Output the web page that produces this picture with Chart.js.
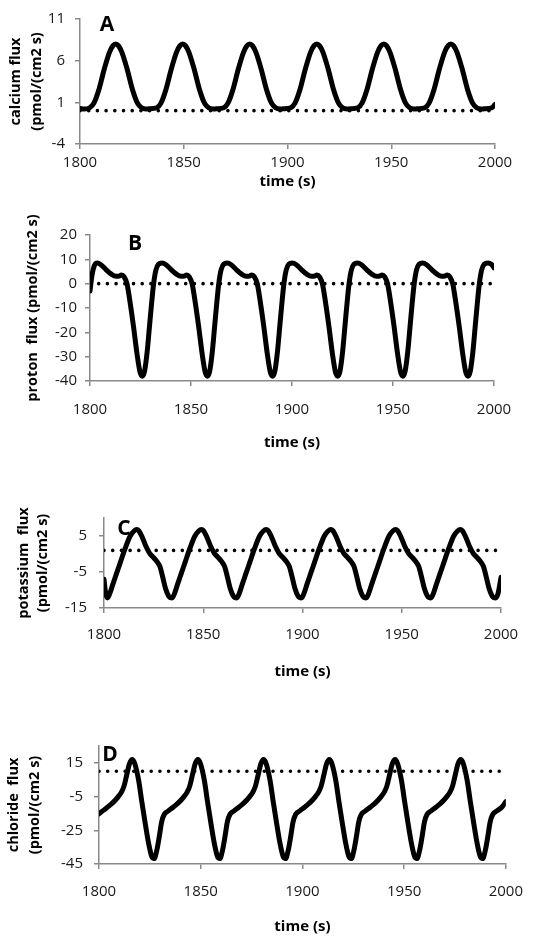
<!DOCTYPE html>
<html>
<head>
<meta charset="utf-8">
<script src="https://cdn.jsdelivr.net/npm/chart.js@4.4.1/dist/chart.umd.min.js"></script>
<style>
  body { margin: 0; background: #fff; }
  #wrap { position: relative; width: 537px; height: 938px; overflow: hidden; }
  canvas { position: absolute; left: 0; }
  .tag { position: absolute; font: bold 21px "Open Sans", sans-serif; color: #000; transform: translate(-50%, -50%); line-height: 1; }
</style>
</head>
<body>
<div id="wrap">
  <canvas id="chartA" width="537" height="200" style="top:0px"></canvas>
  <canvas id="chartB" width="537" height="260" style="top:200px"></canvas>
  <canvas id="chartC" width="537" height="230" style="top:460px"></canvas>
  <canvas id="chartD" width="537" height="248" style="top:690px"></canvas>
  <div class="tag" style="left:107px; top:23px">A</div>
  <div class="tag" style="left:135px; top:242px">B</div>
  <div class="tag" style="left:124px; top:527px">C</div>
  <div class="tag" style="left:110px; top:753px">D</div>
</div>
<script>
// x axis
const timeTicks = [1800, 1850, 1900, 1950, 2000];

// A - calcium flux
const timeA = [1800, 1802, 1804.7,
  1806.7, 1809.2, 1811.7, 1814.2, 1815.9, 1817.2, 1818.5, 1820.2, 1822.7, 1825.2, 1827.7, 1829.7, 1831.7, 1833.2,
  1837.0, 1839.0, 1841.5, 1844.0, 1846.5, 1848.2, 1849.5, 1850.8, 1852.5, 1855.0, 1857.5, 1860.0, 1862.0, 1864.0, 1865.5,
  1869.3, 1871.3, 1873.8, 1876.3, 1878.8, 1880.5, 1881.8, 1883.1, 1884.8, 1887.3, 1889.8, 1892.3, 1894.3, 1896.3, 1897.8,
  1901.6, 1903.6, 1906.1, 1908.6, 1911.1, 1912.8, 1914.1, 1915.4, 1917.1, 1919.6, 1922.1, 1924.6, 1926.6, 1928.6, 1930.1,
  1933.9, 1935.9, 1938.4, 1940.9, 1943.4, 1945.1, 1946.4, 1947.7, 1949.4, 1951.9, 1954.4, 1956.9, 1958.9, 1960.9, 1962.4,
  1966.2, 1968.2, 1970.7, 1973.2, 1975.7, 1977.4, 1978.7, 1980.0, 1981.7, 1984.2, 1986.7, 1989.2, 1991.2, 1993.2, 1994.7,
  1998.5, 2000];
const calciumFlux = [0.25, 0.2, 0.35,
  0.9, 2.6, 5.0, 7.0, 7.8, 8.0, 7.8, 7.0, 5.0, 2.6, 0.9, 0.35, 0.2, 0.22, 0.35,
  0.9, 2.6, 5.0, 7.0, 7.8, 8.0, 7.8, 7.0, 5.0, 2.6, 0.9, 0.35, 0.2, 0.22, 0.35,
  0.9, 2.6, 5.0, 7.0, 7.8, 8.0, 7.8, 7.0, 5.0, 2.6, 0.9, 0.35, 0.2, 0.22, 0.35,
  0.9, 2.6, 5.0, 7.0, 7.8, 8.0, 7.8, 7.0, 5.0, 2.6, 0.9, 0.35, 0.2, 0.22, 0.35,
  0.9, 2.6, 5.0, 7.0, 7.8, 8.0, 7.8, 7.0, 5.0, 2.6, 0.9, 0.35, 0.2, 0.22, 0.35,
  0.9, 2.6, 5.0, 7.0, 7.8, 8.0, 7.8, 7.0, 5.0, 2.6, 0.9, 0.35, 0.2, 0.22,
  0.35, 0.75];
const ticksA = [-4, 1, 6, 11];

// B - proton flux
const timeB = [1800, 1801, 1802.2, 1803.6,
  1805.4, 1807.9, 1810.4, 1812.9, 1814.4, 1815.6, 1816.9, 1818.3, 1819.9, 1821.6, 1823.3, 1824.8, 1825.9, 1827.0, 1828.3, 1829.4, 1830.5, 1831.5, 1832.6, 1833.9, 1835.65,
  1837.65, 1840.15, 1842.65, 1845.15, 1846.65, 1847.85, 1849.15, 1850.55, 1852.15, 1853.85, 1855.55, 1857.05, 1858.15, 1859.25, 1860.55, 1861.65, 1862.75, 1863.75, 1864.85, 1866.15, 1867.9,
  1869.9, 1872.4, 1874.9, 1877.4, 1878.9, 1880.1, 1881.4, 1882.8, 1884.4, 1886.1, 1887.8, 1889.3, 1890.4, 1891.5, 1892.8, 1893.9, 1895.0, 1896.0, 1897.1, 1898.4, 1900.15,
  1902.15, 1904.65, 1907.15, 1909.65, 1911.15, 1912.35, 1913.65, 1915.05, 1916.65, 1918.35, 1920.05, 1921.55, 1922.65, 1923.75, 1925.05, 1926.15, 1927.25, 1928.25, 1929.35, 1930.65, 1932.4,
  1934.4, 1936.9, 1939.4, 1941.9, 1943.4, 1944.6, 1945.9, 1947.3, 1948.9, 1950.6, 1952.3, 1953.8, 1954.9, 1956.0, 1957.3, 1958.4, 1959.5, 1960.5, 1961.6, 1962.9, 1964.65,
  1966.65, 1969.15, 1971.65, 1974.15, 1975.65, 1976.85, 1978.15, 1979.55, 1981.15, 1982.85, 1984.55, 1986.05, 1987.15, 1988.25, 1989.55, 1990.65, 1991.75, 1992.75, 1993.85, 1995.15, 1996.9,
  1998.9, 2000];
const protonFlux = [-3, 3.5, 7.5, 8.5,
  7.8, 5.8, 4.0, 3.0, 3.1, 3.6, 2.8, 0, -8, -18, -29, -36.5, -38, -36, -28, -18, -8, 0, 5.5, 8.0, 8.5,
  7.8, 5.8, 4.0, 3.0, 3.1, 3.6, 2.8, 0, -8, -18, -29, -36.5, -38, -36, -28, -18, -8, 0, 5.5, 8.0, 8.5,
  7.8, 5.8, 4.0, 3.0, 3.1, 3.6, 2.8, 0, -8, -18, -29, -36.5, -38, -36, -28, -18, -8, 0, 5.5, 8.0, 8.5,
  7.8, 5.8, 4.0, 3.0, 3.1, 3.6, 2.8, 0, -8, -18, -29, -36.5, -38, -36, -28, -18, -8, 0, 5.5, 8.0, 8.5,
  7.8, 5.8, 4.0, 3.0, 3.1, 3.6, 2.8, 0, -8, -18, -29, -36.5, -38, -36, -28, -18, -8, 0, 5.5, 8.0, 8.5,
  7.8, 5.8, 4.0, 3.0, 3.1, 3.6, 2.8, 0, -8, -18, -29, -36.5, -38, -36, -28, -18, -8, 0, 5.5, 8.0, 8.5,
  7.8, 6.5];
const ticksB = [-40, -30, -20, -10, 0, 10, 20];

// C - potassium flux
const timeC = [1800, 1800.8,
  1801.7, 1802.9, 1804.4, 1806.2, 1808.2, 1810.7, 1813.2, 1815.1, 1816.5, 1817.5, 1819.0, 1821.0, 1823.0, 1825.0, 1826.8, 1828.1, 1829.5, 1831.0, 1832.5,
  1834.3, 1835.5, 1837.0, 1838.8, 1840.8, 1843.3, 1845.8, 1847.7, 1849.1, 1850.1, 1851.6, 1853.6, 1855.6, 1857.6, 1859.4, 1860.7, 1862.1, 1863.6, 1865.1,
  1866.9, 1868.1, 1869.6, 1871.4, 1873.4, 1875.9, 1878.4, 1880.3, 1881.7, 1882.7, 1884.2, 1886.2, 1888.2, 1890.2, 1892.0, 1893.3, 1894.7, 1896.2, 1897.7,
  1899.5, 1900.7, 1902.2, 1904.0, 1906.0, 1908.5, 1911.0, 1912.9, 1914.3, 1915.3, 1916.8, 1918.8, 1920.8, 1922.8, 1924.6, 1925.9, 1927.3, 1928.8, 1930.3,
  1932.1, 1933.3, 1934.8, 1936.6, 1938.6, 1941.1, 1943.6, 1945.5, 1946.9, 1947.9, 1949.4, 1951.4, 1953.4, 1955.4, 1957.2, 1958.5, 1959.9, 1961.4, 1962.9,
  1964.7, 1965.9, 1967.4, 1969.2, 1971.2, 1973.7, 1976.2, 1978.1, 1979.5, 1980.5, 1982.0, 1984.0, 1986.0, 1988.0, 1989.8, 1991.1, 1992.5, 1994.0, 1995.5,
  1997.3, 1998.5, 2000];
const potassiumFlux = [-7.0, -10.8,
  -12.2, -11.0, -8.5, -5.6, -2.4, 1.6, 5.0, 6.4, 6.8, 6.5, 5.0, 2.3, 0.2, -1.0, -2.2, -3.4, -6.2, -9.6, -11.6,
  -12.2, -11.0, -8.5, -5.6, -2.4, 1.6, 5.0, 6.4, 6.8, 6.5, 5.0, 2.3, 0.2, -1.0, -2.2, -3.4, -6.2, -9.6, -11.6,
  -12.2, -11.0, -8.5, -5.6, -2.4, 1.6, 5.0, 6.4, 6.8, 6.5, 5.0, 2.3, 0.2, -1.0, -2.2, -3.4, -6.2, -9.6, -11.6,
  -12.2, -11.0, -8.5, -5.6, -2.4, 1.6, 5.0, 6.4, 6.8, 6.5, 5.0, 2.3, 0.2, -1.0, -2.2, -3.4, -6.2, -9.6, -11.6,
  -12.2, -11.0, -8.5, -5.6, -2.4, 1.6, 5.0, 6.4, 6.8, 6.5, 5.0, 2.3, 0.2, -1.0, -2.2, -3.4, -6.2, -9.6, -11.6,
  -12.2, -11.0, -8.5, -5.6, -2.4, 1.6, 5.0, 6.4, 6.8, 6.5, 5.0, 2.3, 0.2, -1.0, -2.2, -3.4, -6.2, -9.6, -11.6,
  -12.2, -11.0, -6.5];
const ticksC = [-15, -5, 5];

// D - chloride flux
const timeD = [1800,
  1801.8, 1804.3, 1806.8, 1809.3, 1811.1, 1812.3, 1813.7, 1815.0, 1816.3, 1817.6, 1819.5, 1821.1, 1822.8, 1824.5, 1825.9, 1827.1,
  1828.4, 1829.6, 1830.8, 1832.1, 1834.1, 1836.6, 1839.1, 1841.6, 1843.4, 1844.6, 1846.0, 1847.3, 1848.6, 1849.9, 1851.8, 1853.4, 1855.1, 1856.8, 1858.2, 1859.4,
  1860.7, 1861.9, 1863.1, 1864.4, 1866.4, 1868.9, 1871.4, 1873.9, 1875.7, 1876.9, 1878.3, 1879.6, 1880.9, 1882.2, 1884.1, 1885.7, 1887.4, 1889.1, 1890.5, 1891.7,
  1893.0, 1894.2, 1895.4, 1896.7, 1898.7, 1901.2, 1903.7, 1906.2, 1908.0, 1909.2, 1910.6, 1911.9, 1913.2, 1914.5, 1916.4, 1918.0, 1919.7, 1921.4, 1922.8, 1924.0,
  1925.3, 1926.5, 1927.7, 1929.0, 1931.0, 1933.5, 1936.0, 1938.5, 1940.3, 1941.5, 1942.9, 1944.2, 1945.5, 1946.8, 1948.7, 1950.3, 1952.0, 1953.7, 1955.1, 1956.3,
  1957.6, 1958.8, 1960.0, 1961.3, 1963.3, 1965.8, 1968.3, 1970.8, 1972.6, 1973.8, 1975.2, 1976.5, 1977.8, 1979.1, 1981.0, 1982.6, 1984.3, 1986.0, 1987.4, 1988.6,
  1989.9, 1991.1, 1992.3, 1993.6, 1995.6, 1998.1, 2000];
const chlorideFlux = [-15.2,
  -13.5, -11.2, -8.6, -5.3, -2.2, 1.2, 8.2, 14.5, 17, 14.5, 4.5, -8.5, -21.5, -33.5, -40.5, -41.8,
  -37, -29, -20, -15.5, -13.5, -11.2, -8.6, -5.3, -2.2, 1.2, 8.2, 14.5, 17, 14.5, 4.5, -8.5, -21.5, -33.5, -40.5, -41.8,
  -37, -29, -20, -15.5, -13.5, -11.2, -8.6, -5.3, -2.2, 1.2, 8.2, 14.5, 17, 14.5, 4.5, -8.5, -21.5, -33.5, -40.5, -41.8,
  -37, -29, -20, -15.5, -13.5, -11.2, -8.6, -5.3, -2.2, 1.2, 8.2, 14.5, 17, 14.5, 4.5, -8.5, -21.5, -33.5, -40.5, -41.8,
  -37, -29, -20, -15.5, -13.5, -11.2, -8.6, -5.3, -2.2, 1.2, 8.2, 14.5, 17, 14.5, 4.5, -8.5, -21.5, -33.5, -40.5, -41.8,
  -37, -29, -20, -15.5, -13.5, -11.2, -8.6, -5.3, -2.2, 1.2, 8.2, 14.5, 17, 14.5, 4.5, -8.5, -21.5, -33.5, -40.5, -41.8,
  -37, -29, -20, -15.5, -13.5, -11.2, -8.0];
const ticksD = [-45, -25, -5, 15];

// dotted reference levels per panel
const dottedLevels = [0, 0, 1, 10];

const axisColor = '#898989';
const fontFamily = '"Open Sans", sans-serif';

function makePanel(canvasId, p) {
    const ctx = document.getElementById(canvasId).getContext('2d');
    const curve = p.times.map((t, i) => ({ x: t, y: p.values[i] }));
    const dotted = [{ x: timeTicks[0], y: p.level }, { x: timeTicks[timeTicks.length - 1], y: p.level }];
    return new Chart(ctx, {
        type: 'line',
        data: {
            datasets: [{
                data: curve,
                borderColor: '#000',
                borderWidth: 5,
                pointRadius: 0,
                cubicInterpolationMode: 'monotone',
                borderJoinStyle: 'round',
                borderCapStyle: 'round',
            }, {
                data: dotted,
                borderColor: '#000',
                borderWidth: 3.6,
                borderDash: [0, 8.7],
                borderCapStyle: 'round',
                pointRadius: 0,
            }],
        },
        options: {
            responsive: false,
            animation: false,
            devicePixelRatio: 1,
            layout: { padding: { top: p.padTop, right: p.padRight, bottom: p.padBottom, left: 0 } },
            plugins: { legend: { display: false }, tooltip: { enabled: false } },
            scales: {
                x: {
                    type: 'linear',
                    min: timeTicks[0],
                    max: timeTicks[timeTicks.length - 1],
                    afterBuildTicks: s => { s.ticks = timeTicks.map(v => ({ value: v })); },
                    afterFit: s => { s.height = p.xHeight; },
                    grid: { drawOnChartArea: false, drawTicks: true, tickLength: 5, color: axisColor, lineWidth: 1.5 },
                    border: { color: axisColor, width: 1.5 },
                    ticks: {
                        callback: v => String(v),
                        color: '#1a1a1a',
                        font: { family: fontFamily, size: 15 },
                        padding: p.xPad,
                        maxRotation: 0,
                        autoSkip: false,
                    },
                    title: {
                        display: true,
                        text: 'time (s)',
                        color: '#000',
                        font: { family: fontFamily, size: 15, weight: 'bold' },
                        padding: 0,
                    },
                },
                y: {
                    type: 'linear',
                    min: p.yMin,
                    max: p.yMax,
                    afterBuildTicks: s => { s.ticks = p.yTicks.map(v => ({ value: v })); },
                    afterFit: s => { s.width = p.left; },
                    grid: { drawOnChartArea: false, drawTicks: true, tickLength: 5, color: axisColor, lineWidth: 1.5 },
                    border: { color: axisColor, width: 1.5 },
                    ticks: {
                        callback: v => String(v),
                        color: '#1a1a1a',
                        font: { family: fontFamily, size: 15 },
                        padding: p.yPad,
                    },
                    title: {
                        display: true,
                        text: p.yTitle,
                        color: '#000',
                        font: { family: fontFamily, size: 14.5, weight: 'bold', lineHeight: p.titleLh / 14.5 },
                        padding: { top: p.titlePad, bottom: 0 },
                    },
                },
            },
        },
    });
}

makePanel('chartA', {
    times: timeA, values: calciumFlux, level: dottedLevels[0],
    yMin: -4, yMax: 11, yTicks: ticksA,
    yTitle: ['calcium flux', '(pmol/(cm2 s)'], titleLh: 21, titlePad: 5.5,
    left: 80, padTop: 17, padRight: 42, padBottom: 9, xHeight: 47, xPad: 5, yPad: 10,
});
makePanel('chartB', {
    times: timeB, values: protonFlux, level: dottedLevels[1],
    yMin: -40, yMax: 20, yTicks: ticksB,
    yTitle: 'proton  flux (pmol/(cm2 s)', titleLh: 21, titlePad: 22.5,
    left: 90, padTop: 35, padRight: 43, padBottom: 8, xHeight: 71, xPad: 15, yPad: 8,
});
makePanel('chartC', {
    times: timeC, values: potassiumFlux, level: dottedLevels[2],
    yMin: -15, yMax: 10, yTicks: ticksC,
    yTitle: ['potassium  flux', '(pmol/(cm2 s)'], titleLh: 19, titlePad: 14.5,
    left: 104, padTop: 58, padRight: 36, padBottom: 9, xHeight: 73, xPad: 13, yPad: 12,
});
makePanel('chartD', {
    times: timeD, values: chlorideFlux, level: dottedLevels[3],
    yMin: -45, yMax: 25, yTicks: ticksD,
    yTitle: ['chloride  flux', '(pmol/(cm2 s)'], titleLh: 21, titlePad: 3.5,
    left: 99, padTop: 56, padRight: 31, padBottom: 2, xHeight: 72, xPad: 14, yPad: 11,
});
</script>
</body>
</html>
